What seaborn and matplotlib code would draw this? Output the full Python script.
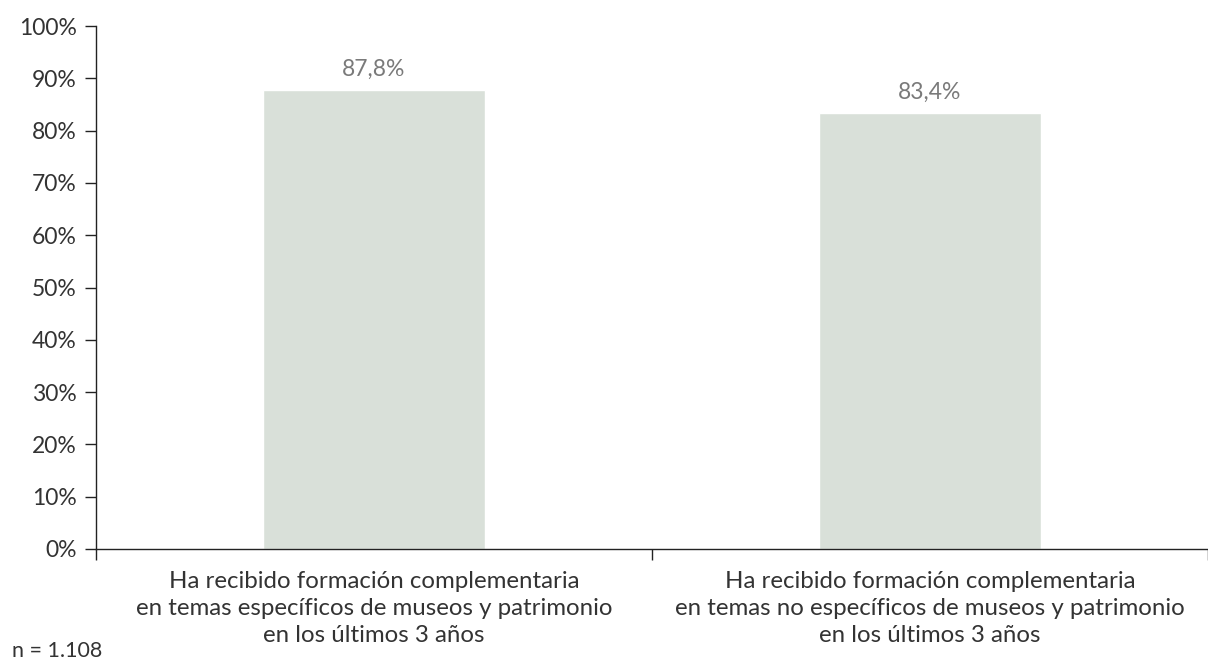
import matplotlib
matplotlib.use("Agg")
import matplotlib.pyplot as plt
import seaborn as sns
import pandas as pd
from matplotlib.ticker import FuncFormatter

categories = [
    "Ha recibido formación complementaria\nen temas específicos de museos y patrimonio\nen los últimos 3 años",
    "Ha recibido formación complementaria\nen temas no específicos de museos y patrimonio\nen los últimos 3 años",
]
values = [87.8, 83.4]
value_labels = ["87,8%", "83,4%"]
yticks = [0, 10, 20, 30, 40, 50, 60, 70, 80, 90, 100]
note = "n = 1.108"

sns.set_style("white")
plt.rcParams['font.family'] = ['Lato', 'DejaVu Sans']

df = pd.DataFrame({"cat": categories, "val": values})

fig = plt.figure(figsize=(12.08, 6.62), dpi=100)
ax = fig.add_axes([0.0795, 0.1707, 0.9205, 0.79])

sns.barplot(data=df, x="cat", y="val", color="#d9e0d9", width=0.4, ax=ax, saturation=1)

ax.set_xlim(-0.5, 1.5)
ax.set_ylim(0, 100)
ax.set_yticks(yticks)
ax.yaxis.set_major_formatter(FuncFormatter(lambda v, p: f"{int(v)}%"))
ax.set_xlabel("")
ax.set_ylabel("")

for i, (v, lab) in enumerate(zip(values, value_labels)):
    ax.text(i, v + 2.0, lab, ha="center", va="bottom", fontsize=16.5, color="#7a7a7a")

for s in ["top", "right"]:
    ax.spines[s].set_visible(False)
for s in ["left", "bottom"]:
    ax.spines[s].set_color("#222222")
    ax.spines[s].set_linewidth(1.0)

ax.tick_params(axis="y", which="both", left=True, length=8, width=1, color="#222222",
               labelsize=16.5, labelcolor="#333333", pad=6)
ax.set_xticks([0, 1])
ax.set_xticklabels(categories, fontsize=17.3, color="#333333", linespacing=1.38)
ax.tick_params(axis="x", which="major", bottom=False, pad=12)
ax.set_xticks([-0.5, 0.5, 1.5], minor=True)
ax.tick_params(axis="x", which="minor", bottom=True, length=8, width=1, color="#222222")

fig.text(12 / 1208, 1 - 651 / 662, note, fontsize=15.5, color="#333333", va="center",
         ha="left")

fig.savefig("out.png", dpi=100)
